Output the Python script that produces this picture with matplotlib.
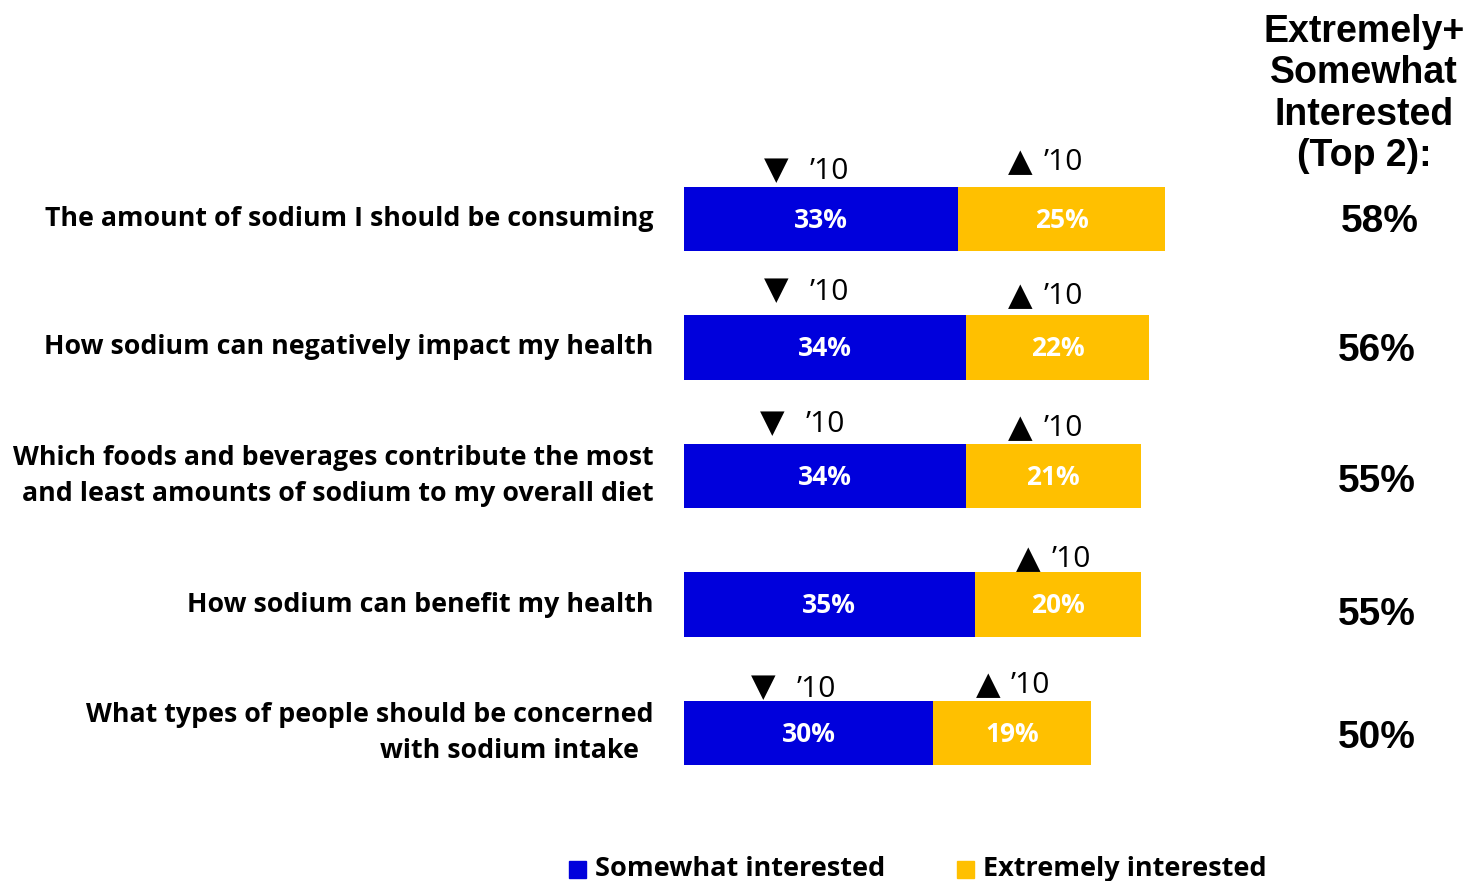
import matplotlib
matplotlib.use('Agg')
import matplotlib.pyplot as plt
from matplotlib.patches import Rectangle

# Survey results: interest in sodium topics
topics = ['The amount of sodium I should be consuming',
          'How sodium can negatively impact my health',
          'Which foods and beverages contribute the most\nand least amounts of sodium to my overall diet',
          'How sodium can benefit my health',
          'What types of people should be concerned\nwith sodium intake  ']
somewhat = [33, 34, 34, 35, 30]
extremely = [25, 22, 21, 20, 19]
top2 = [58, 56, 55, 55, 50]

# change vs. 2010: -1 down, +1 up, 0 none
somewhat_trend = [-1, -1, -1, 0, -1]
extremely_trend = [1, 1, 1, 1, 1]

blue = '#0000DC'
gold = '#FFC000'
label_font = 'Open Sans'

fig = plt.figure(figsize=(14.66, 8.81), dpi=100)
W, H = 1466, 881
ax = fig.add_axes([684 / W, 1 - 797.25 / H, 498 / W, 642.5 / H])
ax.set_xlim(0, 60)
ax.set_ylim(4.5, -0.5)
ax.axis('off')

rows = list(range(len(topics)))
ax.barh(rows, somewhat, height=0.5, color=blue)
ax.barh(rows, extremely, left=somewhat, height=0.5, color=gold)

top2_x = [83.8, 83.5, 83.5, 83.5, 83.5]
top2_dy = [0.02, 0.03, 0.05, 0.08, 0.04]
for i in rows:
    ax.text(somewhat[i] / 2, i + 0.01, f'{somewhat[i]}%', color='white', ha='center',
            va='center', fontsize=19, fontweight='bold', family=label_font)
    ax.text(somewhat[i] + extremely[i] / 2, i + 0.01, f'{extremely[i]}%', color='white',
            ha='center', va='center', fontsize=19, fontweight='bold', family=label_font)
    ax.text(-3.7, i, topics[i], ha='right', va='center', fontsize=19.3,
            fontweight='bold', family=label_font, linespacing=1.5, clip_on=False)
    ax.text(top2_x[i], i + top2_dy[i], f'{top2[i]}%', ha='center', va='center',
            fontsize=28, fontweight='bold', family='Liberation Sans', clip_on=False)

# '10 trend markers above each segment
down_x = [11.1, 11.1, 10.6, None, 9.6]
down_dy = [-0.38, -0.44, -0.41, None, -0.35]
up_x = [40.5, 40.5, 40.5, 41.5, 36.6]
up_dy = [-0.44, -0.40, -0.37, -0.35, -0.37]
for i in rows:
    if somewhat_trend[i] < 0:
        ax.text(down_x[i], i + down_dy[i], '\u25BC', ha='center', va='center',
                fontsize=23, family='DejaVu Sans', clip_on=False)
        ax.text(down_x[i] + 4.0, i + down_dy[i] + 0.01, '\u201910', ha='left',
                va='center', fontsize=21.5, family=label_font, clip_on=False)
    if extremely_trend[i] > 0:
        ax.text(up_x[i], i + up_dy[i], '\u25B2', ha='center', va='center',
                fontsize=23, family='DejaVu Sans', clip_on=False)
        ax.text(up_x[i] + 2.8, i + up_dy[i], '\u201910', ha='left',
                va='center', fontsize=21.5, family=label_font, clip_on=False)

fig.text(1364 / W, 1 - 94 / H, 'Extremely+\nSomewhat\nInterested\n(Top 2):',
         ha='center', va='center', fontsize=27, fontweight='bold',
         family='Liberation Sans', linespacing=1.2)

# legend drawn by hand along the bottom edge
for x0, color, name in [(569, blue, 'Somewhat interested'),
                        (957, gold, 'Extremely interested')]:
    fig.patches.append(Rectangle((x0 / W, 1 - 878 / H), 17 / W, 17 / H,
                                 transform=fig.transFigure, color=color))
    fig.text((x0 + 26) / W, 1 - 869 / H, name, ha='left', va='center',
             fontsize=19.5, fontweight='bold', family=label_font)

fig.savefig('out.png', dpi=100, facecolor='white')
